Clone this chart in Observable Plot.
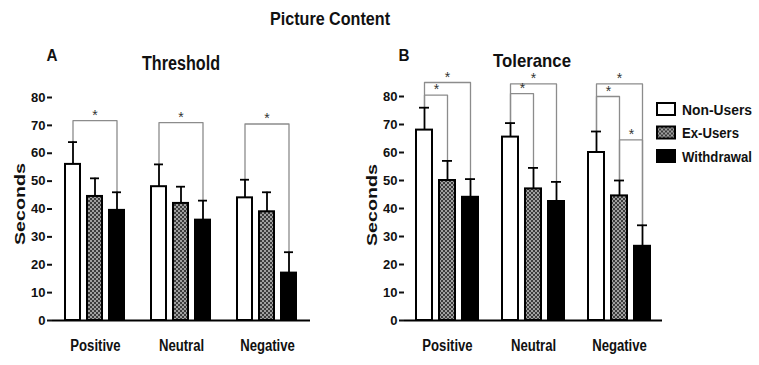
<!DOCTYPE html>
<html><head><meta charset="utf-8">
<script src="https://cdn.jsdelivr.net/npm/d3@7"></script>
<script src="https://cdn.jsdelivr.net/npm/@observablehq/plot@0.6"></script>
<style>
body{margin:0;background:#fff;}
#wrap{position:relative;width:759px;height:365px;overflow:hidden;background:#fff;}
#wrap > svg{position:absolute;top:0;}
.ft{font-family:'Liberation Sans',Arial,sans-serif;font-weight:bold;fill:#111;}
</style></head><body>
<svg width="0" height="0" style="position:absolute"><defs>
<pattern id="checker" width="4" height="4" patternUnits="userSpaceOnUse">
<rect width="4" height="4" fill="#a0a0a0"/><rect width="2" height="2" fill="#3c3c3c"/><rect x="2" y="2" width="2" height="2" fill="#3c3c3c"/>
</pattern></defs></svg>
<div id="wrap"></div>
<script>
const categories = ["Positive", "Neutral", "Negative"];
const groups = ["Non-Users", "Ex-Users", "Withdrawal"];
const yTicks = [0, 10, 20, 30, 40, 50, 60, 70, 80];
// [category][group]
const thresholdMean = [[56, 44.5, 39.5], [48, 42, 36], [44, 39, 17]];
const thresholdErr  = [[64, 51, 46], [56, 48, 43], [50.5, 46, 24.5]];
const toleranceMean = [[68, 50, 44], [65.5, 47, 42.5], [60, 44.5, 26.5]];
const toleranceErr  = [[76, 57, 50.5], [70.5, 54.5, 49.5], [67.5, 50, 34]];
// significance brackets: [category, from group index, to group index, bracket height]
const thresholdBrackets = [["Positive", 0, 2, 71.7], ["Neutral", 0, 2, 71], ["Negative", 0, 2, 70.5]];
const toleranceBrackets = [["Positive", 0, 2, 85], ["Positive", 0, 1, 80.5], ["Neutral", 0, 2, 84.5], ["Neutral", 0, 1, 81],
                           ["Negative", 0, 2, 84.5], ["Negative", 0, 1, 80], ["Negative", 1, 2, 64.5]];
const fills = ["white", "url(#checker)", "black"];
const FONT = "'Liberation Sans',Arial,sans-serif";

function panel(mean, err, brackets, o) {
  const rows = categories.flatMap((c, i) => groups.map((g, j) => ({cat: c, group: g, value: mean[i][j], err: err[i][j]})));
  const pts = brackets.flatMap(([c, a, b, top], k) => {
    const ci = categories.indexOf(c);
    return [
      {id: k, cat: c, group: groups[a], y: err[ci][a]},
      {id: k, cat: c, group: groups[a], y: top},
      {id: k, cat: c, group: groups[b], y: top},
      {id: k, cat: c, group: groups[b], y: err[ci][b]}
    ];
  });
  const stars = brackets.map(([c, a, b, top]) => ({cat: c, even: (a + b) % 2 === 0,
    group: groups[(a + b) % 2 === 0 ? (a + b) / 2 : a], y: top}));
  const chart = Plot.plot({
    width: o.width, height: 365,
    marginLeft: o.ml, marginRight: o.mr, marginTop: o.mt, marginBottom: 45,
    style: {fontFamily: FONT, overflow: "visible", background: "transparent", color: "#111"},
    fx: {domain: categories, paddingInner: 0, paddingOuter: 0},
    x: {domain: groups, paddingInner: 0.3, paddingOuter: o.po, axis: null},
    y: {domain: [0, 80]},
    color: {domain: groups, range: fills},
    marks: [
      Plot.line(pts, {fx: "cat", x: "group", y: "y", z: "id", stroke: "#8c8c8c", strokeWidth: 1.3}),
      Plot.text(stars.filter(d => d.even), {fx: "cat", x: "group", y: "y", text: () => "*", lineAnchor: "bottom", dy: -1, fontSize: 14, fill: "#333"}),
      Plot.text(stars.filter(d => !d.even), {fx: "cat", x: "group", y: "y", text: () => "*", lineAnchor: "bottom", dy: -1, dx: o.half, fontSize: 14, fill: "#333"}),
      Plot.ruleX(rows, {fx: "cat", x: "group", y1: "value", y2: "err", stroke: "black", strokeWidth: 1.8}),
      Plot.tickY(rows, {fx: "cat", x: "group", y: "err", stroke: "black", strokeWidth: 1.8, insetLeft: 3, insetRight: 3}),
      Plot.barY(rows, {fx: "cat", x: "group", y: "value", fill: "group", stroke: "black", strokeWidth: 2}),
      Plot.ruleY([0], {stroke: "black", strokeWidth: 2}),
      Plot.axisY({ticks: yTicks, tickSize: 5, tickPadding: 2, fontSize: 13, fontWeight: "bold", line: true, strokeWidth: 2, label: null}),
      Plot.axisFx({anchor: "bottom", tickSize: 0, tickPadding: 19, fontSize: 16, fontWeight: "bold", label: null})
    ]
  });
  chart.style.left = o.left + "px";
  return chart;
}

const wrap = document.getElementById("wrap");
const pA = panel(thresholdMean, thresholdErr, thresholdBrackets, {width: 380, left: 0, ml: 52, mr: 70, mt: 97, po: 0.52, half: 11.5});
const pB = panel(toleranceMean, toleranceErr, toleranceBrackets, {width: 379, left: 380, ml: 23, mr: 97, mt: 96, po: 0.45, half: 12});
wrap.append(pA, pB);
// condense the category labels to match the narrow face of the original
for (const p of [pA, pB]) {
  p.querySelectorAll('[aria-label="fx-axis tick label"] text').forEach(t => {
    const w = t.getComputedTextLength();
    t.setAttribute("textLength", (w * 0.82).toFixed(1));
    t.setAttribute("lengthAdjust", "spacingAndGlyphs");
  });
}

// titles, axis titles & legend overlay
const ov = d3.create("svg").attr("width", 759).attr("height", 365).style("left", "0px").style("pointer-events", "none");
const titles = [
  {text: "Picture Content", x: 330, y: 25, size: 19, len: 120},
  {text: "A", x: 52, y: 61, size: 16, len: 11},
  {text: "Threshold", x: 181, y: 70, size: 20, len: 78},
  {text: "B", x: 404, y: 61, size: 16, len: 11},
  {text: "Tolerance", x: 532, y: 67, size: 19, len: 78}
];
ov.selectAll("text.t").data(titles).join("text").attr("class", "ft t")
  .attr("x", d => d.x).attr("y", d => d.y).attr("font-size", d => d.size).attr("text-anchor", "middle")
  .attr("textLength", d => d.len).attr("lengthAdjust", "spacingAndGlyphs").text(d => d.text);
const yLabels = [{x: 25, y: 204}, {x: 377, y: 205}];
ov.selectAll("text.yl").data(yLabels).join("text").attr("class", "ft yl")
  .attr("transform", d => `translate(${d.x},${d.y}) rotate(-90)`).attr("text-anchor", "middle").attr("font-size", 14)
  .attr("textLength", 82).attr("lengthAdjust", "spacingAndGlyphs").text("Seconds");
const legendLen = [70, 57, 70];
const lg = ov.selectAll("g.lg").data(groups).join("g").attr("transform", (d, i) => `translate(657,${103 + i * 23.5})`);
lg.append("rect").attr("width", 18).attr("height", 12).attr("fill", (d, i) => fills[i]).attr("stroke", "black").attr("stroke-width", 2);
lg.append("text").attr("class", "ft").attr("x", 25).attr("y", 11.5).attr("font-size", 14)
  .attr("textLength", (d, i) => legendLen[i]).attr("lengthAdjust", "spacingAndGlyphs").text(d => d);
wrap.append(ov.node());
</script>
</body></html>
